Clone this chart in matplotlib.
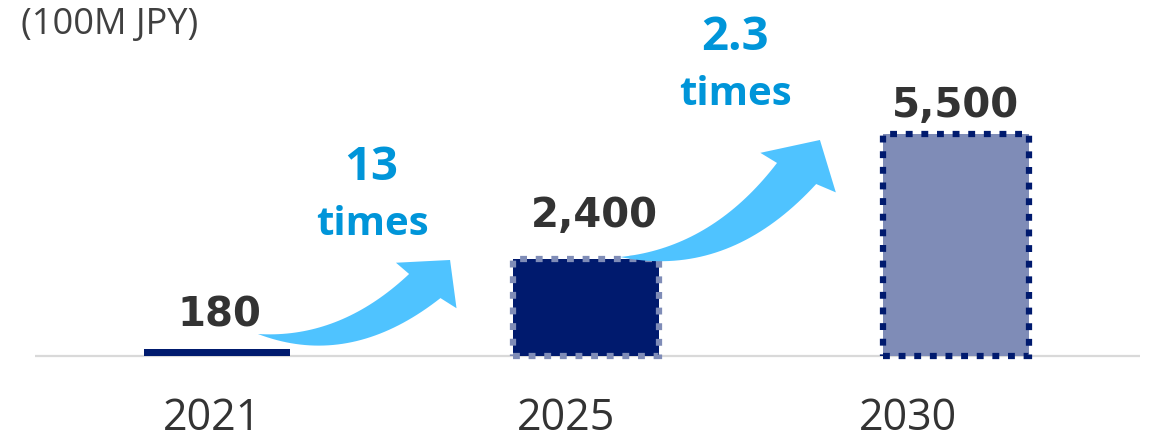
import numpy as np
import matplotlib
matplotlib.use("Agg")
import matplotlib.pyplot as plt
from matplotlib.patches import Polygon

plt.rcParams['font.family'] = ['Open Sans', 'DejaVu Sans']

# datos
years = ['2021', '2025', '2030']
values = [180, 2400, 5500]
value_labels = ['180', '2,400', '5,500']
growth_labels = ['13', '2.3']

navy = '#001A6E'
light = '#7F8CB7'
arrow_blue = '#4FC3FF'
text_blue = '#0095D9'
dark = '#333333'

fig = plt.figure(figsize=(11.51, 4.39), dpi=100)
ax = fig.add_axes([0, 0.1868, 1, 0.8132])
ax.set_xlim(-0.587, 2.528)
ax.set_ylim(0, 8845)
ax.axis('off')

x = np.arange(len(years))

# linea base
ax.plot([-0.493, 2.498], [0, 0], color='#D9D9D9', lw=1.6, zorder=1, solid_capstyle='butt', clip_on=False)

bars = ax.bar(x, values, width=0.395, color=[navy, navy, light], zorder=2, clip_on=False)
bars[0].set_linewidth(0)
bars[1].set_edgecolor(light)
bars[1].set_linewidth(4.5)
bars[1].set_linestyle((0, (1.1, 1.4)))
bars[2].set_edgecolor(navy)
bars[2].set_linewidth(4.5)
bars[2].set_linestyle((0, (1.1, 1.4)))
for b in bars[1:]:
    b.set_capstyle('butt')

# etiquetas de valor (desplazamiento en puntos)
label_dx = [2, 6, 0]
label_dy = [17, 23.5, 13]
for xi, v, lab, dx, dy in zip(x, values, value_labels, label_dx, label_dy):
    ax.annotate(lab, (xi, v), xytext=(dx, dy), textcoords='offset points',
                ha='center', va='baseline', fontsize=29, fontweight='bold', color=dark,
                family='DejaVu Sans')

# etiquetas de año (algo desplazadas a la izquierda, como en el original)
year_shift = [-0.014, -0.055, -0.130]
for xi, sh, yr in zip(x, year_shift, years):
    ax.text(xi + sh, -1809, yr, ha='center', va='baseline', fontsize=31, color=dark, clip_on=False)

ax.text(-0.530, 8000, '(100M JPY)', ha='left', va='baseline', fontsize=26, color='#404040')


# flecha curva (forma de PowerPoint) en coordenadas de pantalla
def bezier(p0, c, p2, n=40):
    t = np.linspace(0, 1, n)[:, None]
    return (1 - t) ** 2 * p0 + 2 * t * (1 - t) * c + t ** 2 * p2


def curved_arrow(ax, tail, tip):
    to_px = ax.transData
    p0 = np.array(to_px.transform(tail))
    p1 = np.array(to_px.transform(tip))
    d = p1 - p0
    eu = d
    ev = np.array([-d[1], d[0]])

    def pt(u, v):
        return p0 + u * eu + v * ev

    lower = bezier(p0, pt(0.356, -0.32), pt(0.89, -0.156))
    upper = bezier(pt(0.79, 0.008), pt(0.363, -0.166), p0)
    head = np.array([pt(0.945, -0.23), pt(1, 0), pt(0.75, 0.082)])
    pts = np.vstack([lower, head, upper])
    pts = to_px.inverted().transform(pts)
    ax.add_patch(Polygon(pts, closed=True, facecolor=arrow_blue, edgecolor='none', zorder=3, clip_on=False))


curved_arrow(ax, (0.111, 545), (0.631, 2379))
curved_arrow(ax, (1.091, 2453), (1.632, 5352))

# textos de crecimiento
ax.text(0.417, 4386, growth_labels[0], ha='center', va='baseline', fontsize=34, fontweight='bold', color=text_blue)
ax.text(0.420, 3023, 'times', ha='center', va='baseline', fontsize=29, fontweight='bold', color=text_blue)
ax.text(1.402, 7607, growth_labels[1], ha='center', va='baseline', fontsize=34, fontweight='bold', color=text_blue)
ax.text(1.402, 6244, 'times', ha='center', va='baseline', fontsize=29, fontweight='bold', color=text_blue)

fig.savefig('out.png', dpi=100)
